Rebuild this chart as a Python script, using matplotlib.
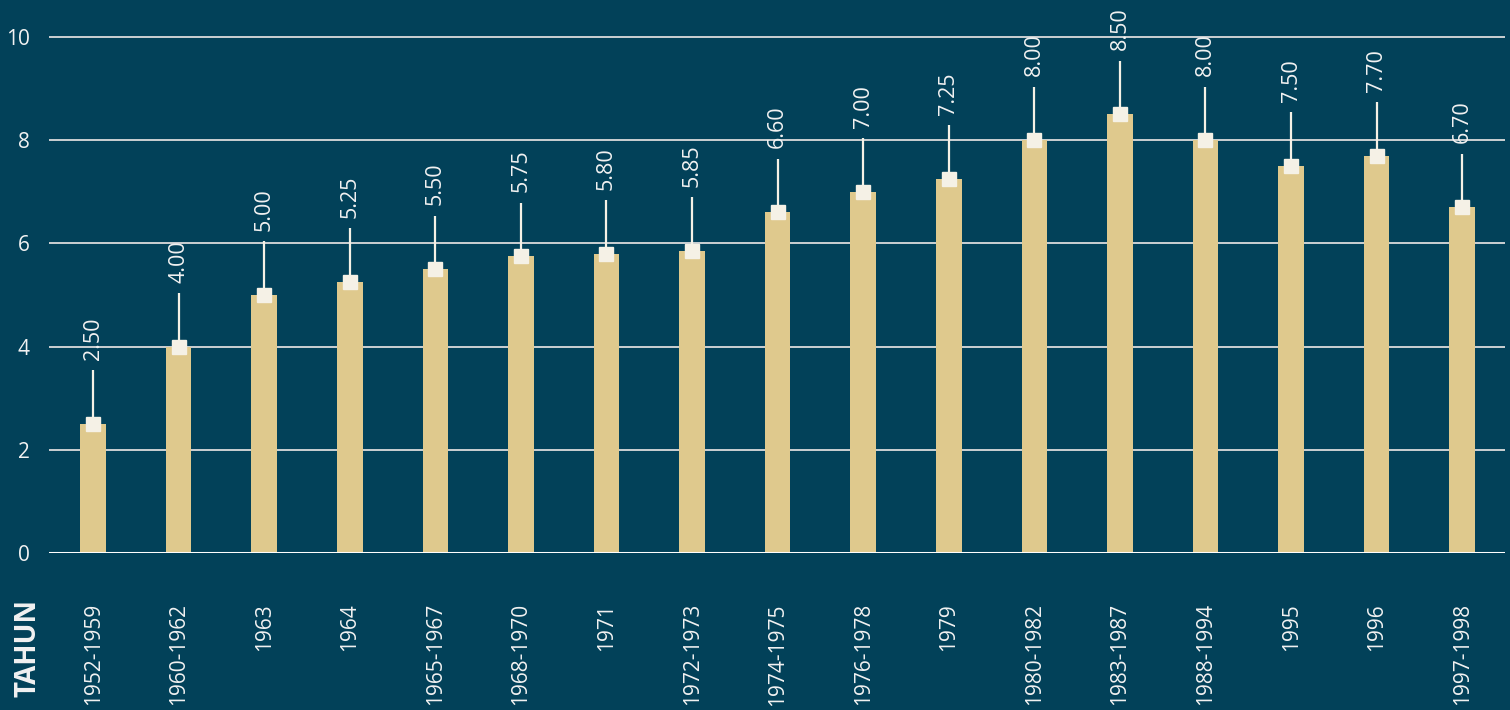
import matplotlib.pyplot as plt
import numpy as np

# data
periods = ["1952-1959", "1960-1962", "1963", "1964", "1965-1967", "1968-1970",
           "1971", "1972-1973", "1974-1975", "1976-1978", "1979", "1980-1982",
           "1983-1987", "1988-1994", "1995", "1996", "1997-1998"]
values = [2.50, 4.00, 5.00, 5.25, 5.50, 5.75, 5.80, 5.85, 6.60, 7.00,
          7.25, 8.00, 8.50, 8.00, 7.50, 7.70, 6.70]
y_ticks = [0, 2, 4, 6, 8, 10]

BG = "#024159"
BAR = "#DFC98D"
MARK = "#F5F1E6"
TXT = "#F2F2F2"

plt.rcParams["font.family"] = ["Open Sans", "DejaVu Sans"]

fig = plt.figure(figsize=(15.1, 7.1), dpi=100, facecolor=BG)
ax = fig.add_axes([49 / 1510, 157 / 710, (1505 - 49) / 1510, 553 / 710])
ax.set_facecolor(BG)

x = np.arange(len(periods))
stem = 1.04

ax.bar(x, values, width=0.30, color=BAR, zorder=2)
for xi, v in zip(x, values):
    ax.plot([xi, xi], [v, v + stem], color=MARK, lw=1.6, zorder=3, solid_capstyle="butt")
    ax.text(xi, v + stem + 0.2, f"{v:.2f}", rotation=90, ha="center", va="bottom",
            color=TXT, fontsize=15.5, zorder=4, clip_on=False)
ax.plot(x, values, ls="none", marker="s", ms=9.5, color=MARK, zorder=4)

ax.set_xlim(-0.515, 16.5)
ax.set_ylim(0, 553 / 51.6)
ax.set_yticks(y_ticks)
ax.set_yticklabels([str(t) for t in y_ticks], color=TXT, fontsize=15)
ax.yaxis.grid(True, color="#DCDCDC", lw=1.3, zorder=0)
ax.set_axisbelow(True)
ax.tick_params(axis="y", length=0, pad=14)
ax.set_xticks(x)
ax.set_xticklabels(periods, rotation=90, color=TXT, fontsize=15, va="top")
ax.tick_params(axis="x", length=0, pad=36)
for s in ax.spines.values():
    s.set_visible(False)
ax.axhline(0, color="white", lw=2.2, zorder=5)

fig.text(28 / 1510, 1 - 648 / 710, "TAHUN", rotation=90, ha="center", va="center",
         color=TXT, fontsize=20, fontweight="bold")

fig.savefig("out.png", dpi=100, facecolor=BG)
